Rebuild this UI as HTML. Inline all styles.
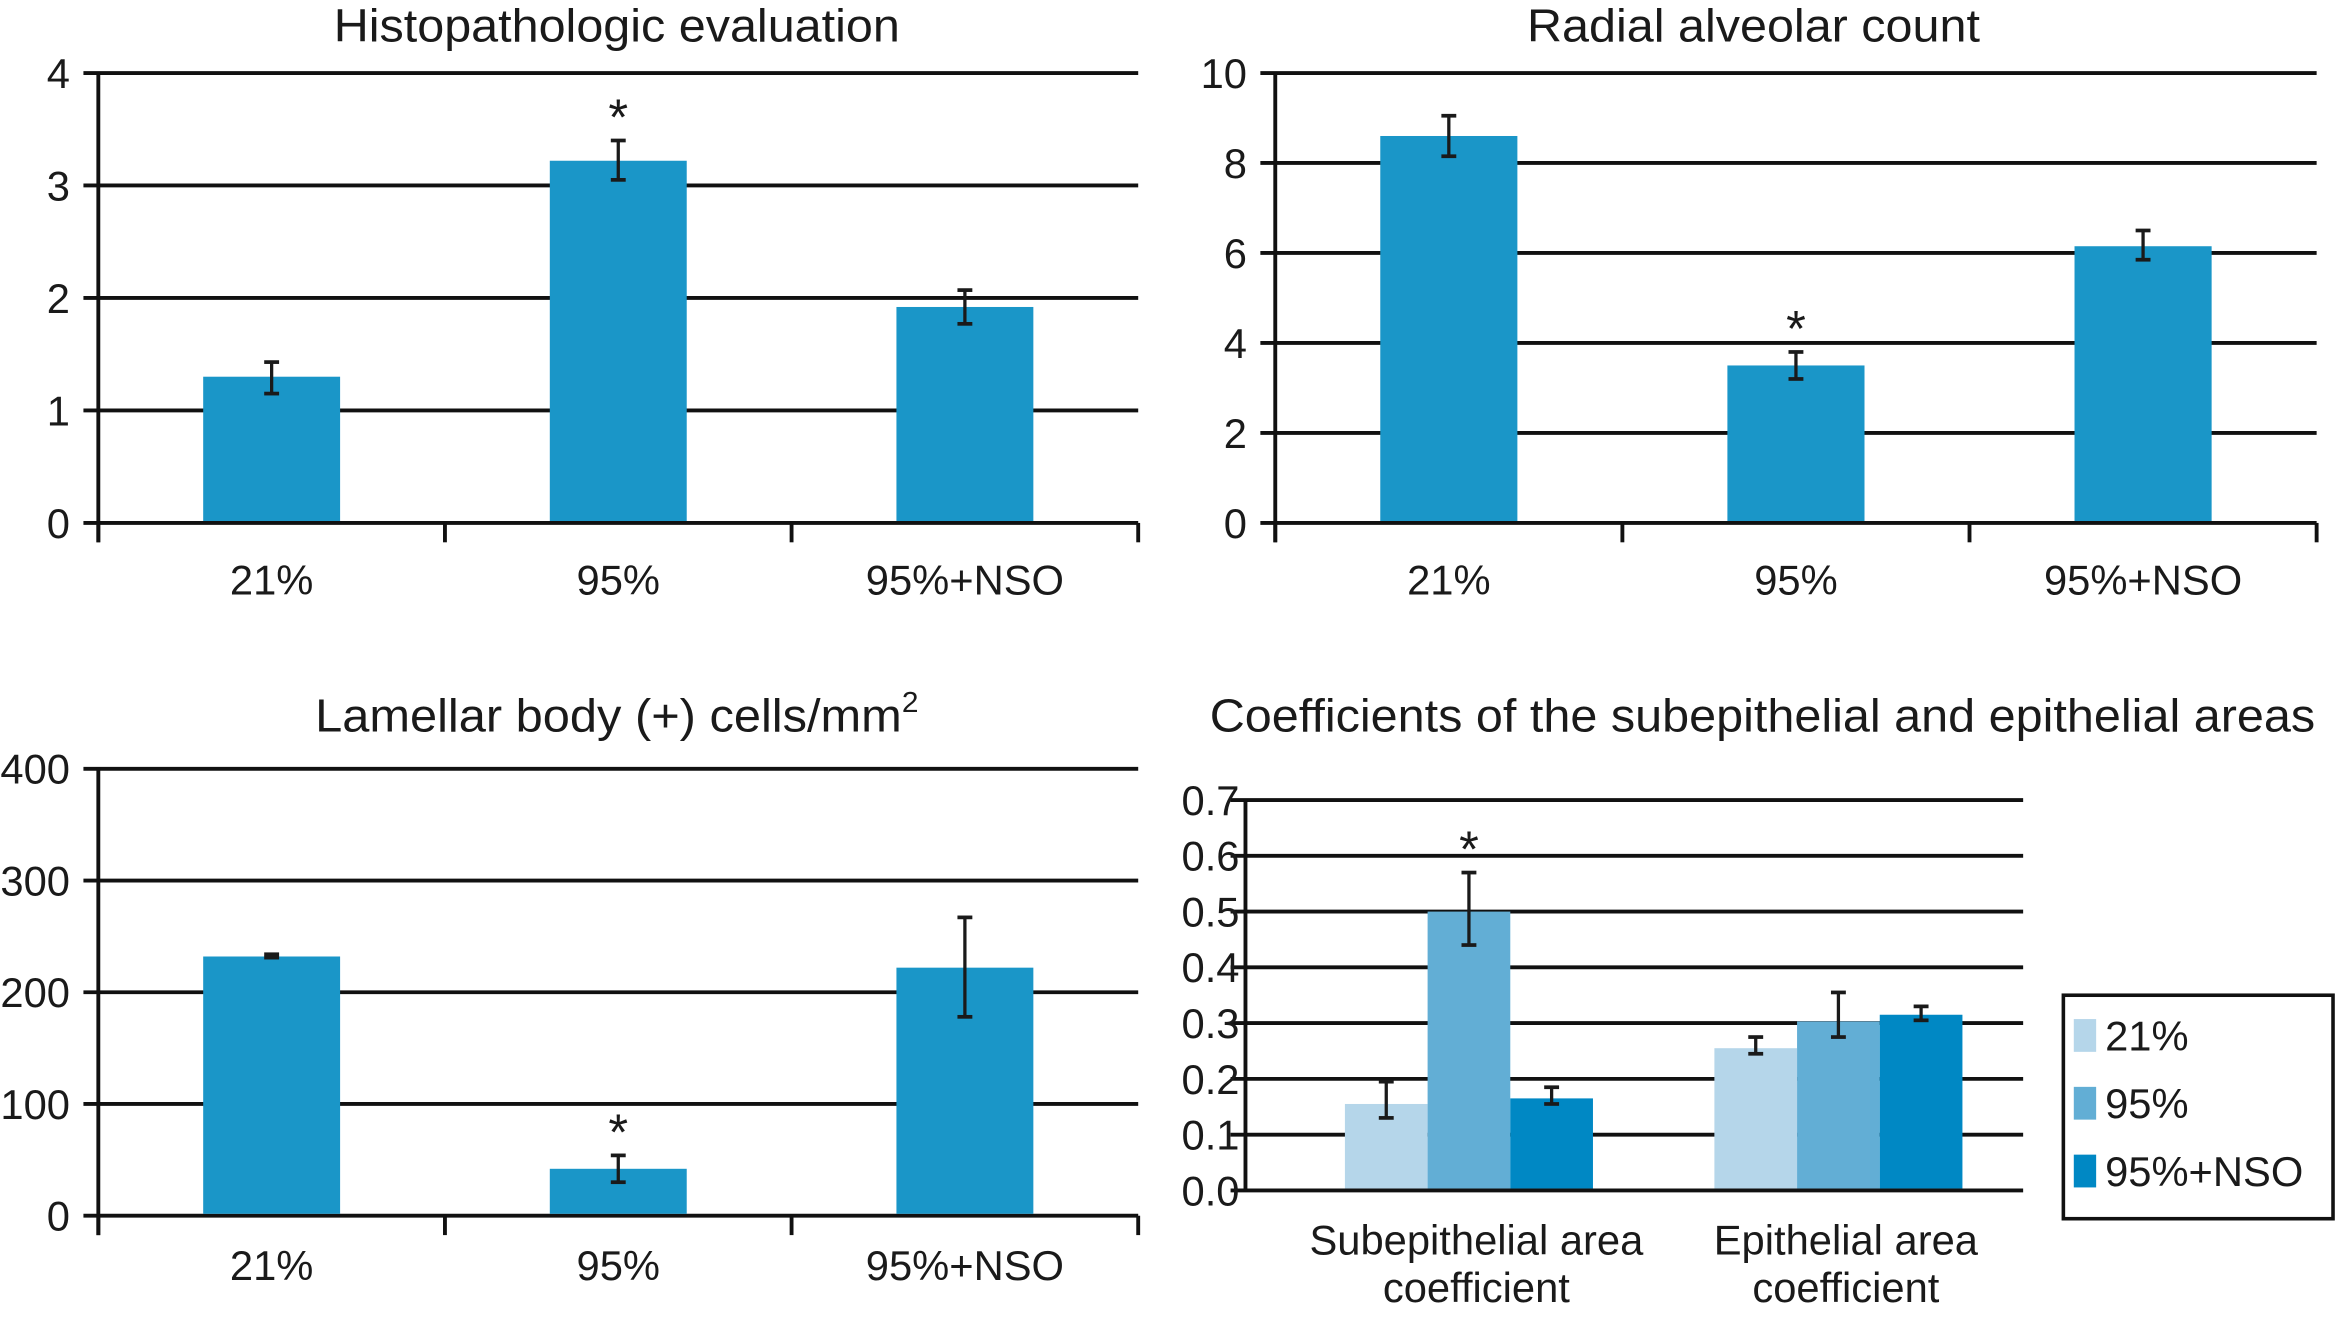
<!DOCTYPE html>
<html><head><meta charset="utf-8"><style>
html,body{margin:0;padding:0;background:#fff;width:2336px;height:1323px;overflow:hidden}
svg{display:block}
text{font-family:"Liberation Sans",sans-serif;fill:#1a1a1a}
</style></head><body>
<svg id="fig" width="2336" height="1323" viewBox="0 0 1568 888" preserveAspectRatio="none" xmlns="http://www.w3.org/2000/svg"></svg>
<script>
// ---- data ----
const groups = ["21%", "95%", "95%+NSO"];
const histoVals = [1.3, 3.22, 1.92];
const histoLo = [1.15, 3.05, 1.77];
const histoHi = [1.43, 3.4, 2.07];
const histoTicks = ["0","1","2","3","4"];
const racVals = [8.6, 3.5, 6.15];
const racLo = [8.15, 3.2, 5.85];
const racHi = [9.05, 3.8, 6.5];
const racTicks = ["0","2","4","6","8","10"];
const lbVals = [232, 42, 222];
const lbLo = [231, 30, 178];
const lbHi = [234, 54, 267];
const lbTicks = ["0","100","200","300","400"];
const coefCats = [["Subepithelial area","coefficient"],["Epithelial area","coefficient"]];
const coefSeries = ["21%","95%","95%+NSO"];
const coef21 = [0.155, 0.255];
const coef95 = [0.5, 0.303];
const coefNSO = [0.165, 0.315];
const coef21Lo = [0.13, 0.245], coef21Hi = [0.195, 0.275];
const coef95Lo = [0.44, 0.275], coef95Hi = [0.57, 0.355];
const coefNSOLo = [0.155, 0.305], coefNSOHi = [0.185, 0.33];
const coefTicks = ["0.0","0.1","0.2","0.3","0.4","0.5","0.6","0.7"];

const svg = document.getElementById('fig');
const NS = "http://www.w3.org/2000/svg";
function mk(tag, attrs, parent){const e=document.createElementNS(NS,tag);for(const k in attrs)e.setAttribute(k,attrs[k]);(parent||svg).appendChild(e);return e;}
function txt(s, attrs, parent){const e=mk('text',attrs,parent);e.textContent=s;return e;}

function errbar(g,x,ylo,yhi){
  mk('line',{x1:x,x2:x,y1:ylo,y2:yhi,stroke:'#1a1a1a','stroke-width':2.2},g);
  mk('line',{x1:x-5,x2:x+5,y1:ylo,y2:ylo,stroke:'#1a1a1a','stroke-width':2.5},g);
  mk('line',{x1:x-5,x2:x+5,y1:yhi,y2:yhi,stroke:'#1a1a1a','stroke-width':2.5},g);
}

function barChart(o){
  const g=mk('g',{});
  
  
  const maxV=parseFloat(o.ticks[o.ticks.length-1]);
  const y=v=>o.y0-(v/maxV)*(o.y0-o.ytop);
  const t=txt(o.title,{x:o.tx,y:o.ty,'font-size':31,'text-anchor':'middle',textLength:o.tl,lengthAdjust:'spacingAndGlyphs'},g);
  
  
  if(o.sup){const s=mk('tspan',{'font-size':19,dy:-13},t);s.textContent=o.sup;}
  o.ticks.forEach(tk=>{
    const yy=y(parseFloat(tk));
    mk('line',{x1:o.x0-10,x2:o.x1,y1:yy,y2:yy,stroke:'#111','stroke-width':2.6},g);
    const l=txt(tk,{x:o.x0-19,y:yy+10,'font-size':28,'text-anchor':'end'},g);
    
    
  });
  mk('line',{x1:o.x0,x2:o.x0,y1:o.ytop-1,y2:o.y0+13,stroke:'#111','stroke-width':2.6},g);
  const n=groups.length, w=(o.x1-o.x0)/n;
  for(let i=0;i<=n;i++){const xx=o.x0+i*w;mk('line',{x1:xx,x2:xx,y1:o.y0,y2:o.y0+13,stroke:'#111','stroke-width':2.6},g);}
  groups.forEach((c,i)=>{
    const cx=o.x0+(i+0.5)*w, bw=w*0.395;
    const b=mk('rect',{x:cx-bw/2,y:y(o.vals[i]),width:bw,height:o.y0-1.3-y(o.vals[i]),fill:'#1a96c8'},g);
    
    
    errbar(g,cx,y(o.lo[i]),y(o.hi[i]));
    const l=txt(c,{x:cx,y:o.ly,'font-size':28,'text-anchor':'middle'},g);
    
    
    if(i===o.star) txt('*',{x:cx,y:y(o.hi[i])-4,'font-size':34,'text-anchor':'middle'},g);
  });
}
barChart({name:'histopathologic-chart',title:'Histopathologic evaluation',tl:380,tx:414,ty:28,x0:66,x1:764,y0:351,ytop:49,ticks:histoTicks,vals:histoVals,lo:histoLo,hi:histoHi,ly:399,star:1});
barChart({name:'radial-alveolar-chart',title:'Radial alveolar count',tl:304,tx:1177,ty:28,x0:856,x1:1555,y0:351,ytop:49,ticks:racTicks,vals:racVals,lo:racLo,hi:racHi,ly:399,star:1});
barChart({name:'lamellar-body-chart',title:'Lamellar body (+) cells/mm',sup:'2',tl:405,tx:414,ty:491,x0:66,x1:764,y0:816,ytop:516,ticks:lbTicks,vals:lbVals,lo:lbLo,hi:lbHi,ly:859,star:1});

// coefficient chart
(function(){
  const g=mk('g',{});
  
  
  const x0=836,x1=1358,y0=799,ytop=537,maxV=0.7;
  const y=v=>y0-(v/maxV)*(y0-ytop);
  const t=txt('Coefficients of the subepithelial and epithelial areas',{x:1183,y:491,'font-size':31,'text-anchor':'middle',textLength:742,lengthAdjust:'spacingAndGlyphs'},g);
  
  
  coefTicks.forEach(tk=>{
    const yy=y(parseFloat(tk));
    mk('line',{x1:x0-10,x2:x1,y1:yy,y2:yy,stroke:'#111','stroke-width':2.6},g);
    const l=txt(tk,{x:x0-4,y:yy+10,'font-size':28,'text-anchor':'end'},g);
    
    
  });
  mk('line',{x1:x0,x2:x0,y1:ytop-1,y2:y0+1,stroke:'#111','stroke-width':2.6},g);
  const colors=['#b5d6ea','#62aed5','#0088c4'];
  const vals=[coef21,coef95,coefNSO], los=[coef21Lo,coef95Lo,coefNSOLo], his=[coef21Hi,coef95Hi,coefNSOHi];
  const bw=55.5;
  coefCats.forEach((c,i)=>{
    const cx=986+i*248;
    for(let s=0;s<3;s++){
      const bx=cx-1.5*bw+s*bw;
      const b=mk('rect',{x:bx,y:y(vals[s][i]),width:bw,height:y0-1.3-y(vals[s][i]),fill:colors[s]},g);
      
      
      errbar(g,bx+bw/2,y(los[s][i]),y(his[s][i]));
      if(i===0&&s===1) txt('*',{x:bx+bw/2,y:y(his[s][i])-4,'font-size':34,'text-anchor':'middle'},g);
    }
    const l1=txt(c[0],{x:cx+5,y:842,'font-size':28,'text-anchor':'middle'},g);
    
    
    const l2=txt(c[1],{x:cx+5,y:874,'font-size':28,'text-anchor':'middle'},g);
    
    
  });
  const lg=mk('g',{},g);
  
  
  mk('rect',{x:1385,y:668,width:181,height:150,fill:'#fff',stroke:'#111','stroke-width':2.4},lg);
  coefSeries.forEach((s,i)=>{
    const yy=695+i*45.5;
    const e=mk('g',{},lg);
    
    
    mk('rect',{x:1392,y:yy-11,width:15,height:22,fill:colors[i]},e);
    txt(s,{x:1413,y:yy+10,'font-size':28},e);
  });
})();
</script>
</body></html>
